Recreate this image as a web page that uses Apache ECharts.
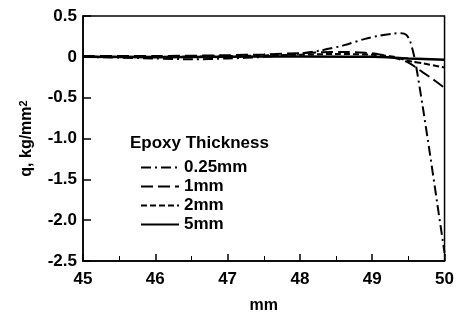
<!DOCTYPE html>
<html><head><meta charset="utf-8">
<script src="https://cdn.jsdelivr.net/npm/echarts@6/dist/echarts.min.js"></script>
<style>html,body{margin:0;padding:0;background:#fff}#c{width:457px;height:320px}</style>
</head><body><div id="c"></div>
<script>
const seriesNames = ['0.25mm', '1mm', '2mm', '5mm'];
const x025 = [45, 45.5, 46, 46.5, 47, 47.5, 48, 48.3, 48.6, 48.9, 49.1, 49.3, 49.4, 49.47, 49.52, 49.56, 49.6, 49.7, 49.8, 49.9, 50];
const y025 = [0, -0.01, -0.02, -0.03, -0.02, 0.0, 0.04, 0.08, 0.14, 0.22, 0.26, 0.285, 0.29, 0.27, 0.2, 0.08, -0.08, -0.62, -1.2, -1.8, -2.4];
const x1 = [45, 46, 47, 47.5, 48, 48.3, 48.6, 48.9, 49.1, 49.3, 49.5, 49.7, 49.85, 50];
const y1 = [0.01, 0.01, 0.02, 0.03, 0.045, 0.055, 0.06, 0.05, 0.03, -0.01, -0.07, -0.19, -0.28, -0.38];
const x2 = [45, 46, 47, 48, 48.5, 49, 49.3, 49.5, 49.7, 50];
const y2 = [0, 0, 0.01, 0.025, 0.035, 0.025, 0.0, -0.05, -0.08, -0.13];
const x5 = [45, 46, 47, 48, 49, 49.5, 50];
const y5 = [0, -0.005, 0, 0.005, 0, -0.02, -0.035];
const xTicks = [45, 46, 47, 48, 49, 50];
const yTicks = [0.5, 0, -0.5, -1.0, -1.5, -2.0, -2.5];

const zip = (xs, ys) => xs.map((x, i) => [x, ys[i]]);
const font = 'Liberation Sans, Arial, sans-serif';
const chart = echarts.init(document.getElementById('c'), null, {renderer: 'canvas'});
const mk = (name, data, type, w) => ({
  name, type: 'line', data, symbol: 'none', smooth: 0.3,
  lineStyle: {color: '#000', width: w, type},
  itemStyle: {color: '#000'}
});
const txt = {fontFamily: font, fontSize: 17, fontWeight: 'bold', color: '#000'};
chart.setOption({
  animation: false,
  backgroundColor: '#fff',
  grid: {left: 83, right: 9, top: 16, bottom: 59, show: true, borderColor: '#000', borderWidth: 1.5, backgroundColor: 'transparent'},
  xAxis: {
    type: 'value', min: 45, max: 50, interval: 1,
    name: 'mm', nameLocation: 'middle', nameGap: 37,
    nameTextStyle: Object.assign({}, txt, {fontSize: 16}),
    axisLine: {onZero: false, lineStyle: {color: '#000', width: 1.5}},
    axisTick: {inside: true, length: 7, lineStyle: {color: '#000', width: 1.5}},
    minorTick: {show: true, splitNumber: 2, length: 5, lineStyle: {color: '#000', width: 1}},
    axisLabel: Object.assign({}, txt, {margin: 10,
      formatter: v => xTicks.includes(v) ? String(v) : ''}),
    splitLine: {show: false}
  },
  yAxis: {
    type: 'value', min: -2.5, max: 0.5, interval: 0.5,
    name: 'q, kg/mm{s|2}', nameLocation: 'middle', nameGap: 48, nameRotate: 90,
    nameTextStyle: Object.assign({}, txt, {fontSize: 16,
      rich: {s: {fontFamily: font, fontSize: 11, fontWeight: 'bold', color: '#000', verticalAlign: 'top', padding: [0, 0, 6, 0]}}}),
    axisLine: {onZero: false, lineStyle: {color: '#000', width: 1.5}},
    axisTick: {inside: true, length: 8, lineStyle: {color: '#000', width: 1.5}},
    axisLabel: Object.assign({}, txt, {margin: 6,
      formatter: v => { const t = yTicks.find(k => Math.abs(k - v) < 1e-9); if (t === undefined) return ''; return t === 0 ? '0' : t.toFixed(1); }}),
    splitLine: {show: false}
  },
  legend: {
    data: seriesNames, orient: 'vertical', left: 135, top: 154,
    itemWidth: 38, itemHeight: 10, itemGap: 2,
    itemStyle: {opacity: 0},
    textStyle: Object.assign({}, txt, {padding: [0, 0, 0, 0]})
  },
  title: {text: 'Epoxy Thickness', left: 125, top: 130, textStyle: txt},
  series: [
    mk('0.25mm', zip(x025, y025), [10, 4, 2, 4], 2),
    mk('1mm', zip(x1, y1), [12, 5], 2),
    mk('2mm', zip(x2, y2), [6, 3], 2),
    mk('5mm', zip(x5, y5), 'solid', 2.5)
  ]
});
</script></body></html>
